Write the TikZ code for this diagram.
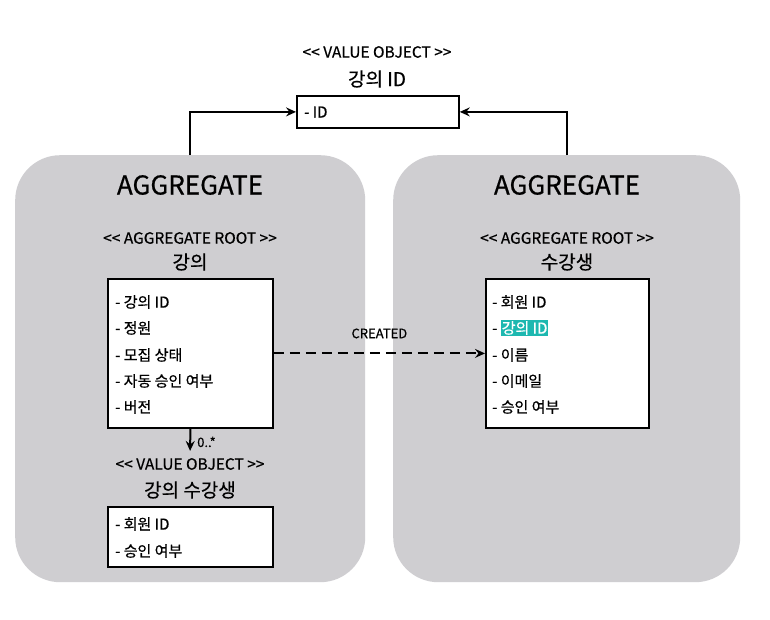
\documentclass[tikz,border=0pt]{standalone}
\usepackage{fontspec}
\setmainfont{Noto Sans CJK KR}[FakeBold=0.6]
\usetikzlibrary{arrows.meta}
\definecolor{agggray}{HTML}{CFCED1}
\definecolor{hlteal}{HTML}{1DB8B0}
\newcommand{\ltlt}{<{}<}
\newcommand{\gtgt}{>{}>}
\begin{document}
\begin{tikzpicture}[x=1pt,y=-1pt,
  aggbox/.style={fill=agggray,draw=none,rounded corners=45pt,anchor=north west,inner sep=0pt},
  objbox/.style={draw=black,line width=1.8pt,fill=white,anchor=north west,inner sep=0pt},
  aggtitle/.style={font=\fontsize{26}{28}\selectfont,inner sep=0pt},
  stereo/.style={font=\fontsize{15.5}{17}\selectfont,inner sep=0pt},
  cname/.style={font=\fontsize{19}{21}\selectfont,inner sep=0pt},
  item/.style={font=\fontsize{15}{17}\selectfont,anchor=west,inner sep=0pt},
  conn/.style={line width=2pt,-{Stealth[length=10pt,width=9pt,inset=3.5pt]}},
  small/.style={font=\fontsize{13}{15}\selectfont,inner sep=0pt}]
\useasboundingbox[fill=white] (0,0) rectangle (770,619);
% aggregates
\node[aggbox,minimum width=350pt,minimum height=427pt] (aggL) at (15,155) {};
\node[aggbox,minimum width=347pt,minimum height=427pt] (aggR) at (393,155) {};
% top value object
\node[stereo] (voTopS) at (377,52) {\ltlt{} VALUE OBJECT \gtgt};
\node[cname] (voTopN) at (377,79) {강의 ID};
\node[objbox,minimum width=162pt,minimum height=32pt] (vo) at (296,95) {};
\node[item] (voId) at (304,112) {- ID};
% left aggregate
\node[aggtitle] (aggLT) at (190,185) {AGGREGATE};
\node[stereo] (lecS) at (190,238) {\ltlt{} AGGREGATE ROOT \gtgt};
\node[cname] (lecN) at (190,262) {강의};
\node[objbox,minimum width=165pt,minimum height=149pt] (lec) at (107,278) {};
\node[item] (l1) at (115,302) {- 강의 ID};
\node[item] (l2) at (115,328) {- 정원};
\node[item] (l3) at (115,355) {- 모집 상태};
\node[item] (l4) at (115,381) {- 자동 승인 여부};
\node[item] (l5) at (115,407) {- 버전};
\node[stereo] (lsS) at (190,464) {\ltlt{} VALUE OBJECT \gtgt};
\node[cname] (lsN) at (190,490) {강의 수강생};
\node[objbox,minimum width=165pt,minimum height=60pt] (ls) at (107,506) {};
\node[item] (ls1) at (115,524) {- 회원 ID};
\node[item] (ls2) at (115,551) {- 승인 여부};
% right aggregate
\node[aggtitle] (aggRT) at (567,185) {AGGREGATE};
\node[stereo] (stuS) at (567,238) {\ltlt{} AGGREGATE ROOT \gtgt};
\node[cname] (stuN) at (567,262) {수강생};
\node[objbox,minimum width=163pt,minimum height=149pt] (stu) at (485,278) {};
\node[item] (s1) at (492,302) {- 회원 ID};
\node[item] (s2) at (492,328) {- {\fboxsep=1pt\colorbox{hlteal}{\textcolor{white}{강의 ID}}}};
\node[item] (s3) at (492,355) {- 이름};
\node[item] (s4) at (492,381) {- 이메일};
\node[item] (s5) at (492,407) {- 승인 여부};
% connectors
\draw[conn] (aggL.north) |- (vo.west);
\draw[conn] (aggR.north) |- (vo.east);
\draw[conn,shorten >=7pt] (lec.south) -- (lsS.north) node[pos=0.45,right=6pt,small] {0..*};
\draw[conn,dash pattern=on 10pt off 6pt] (lec.east) -- (stu.west)
  node[midway,above=14pt,small] {CREATED};
\end{tikzpicture}
\end{document}
